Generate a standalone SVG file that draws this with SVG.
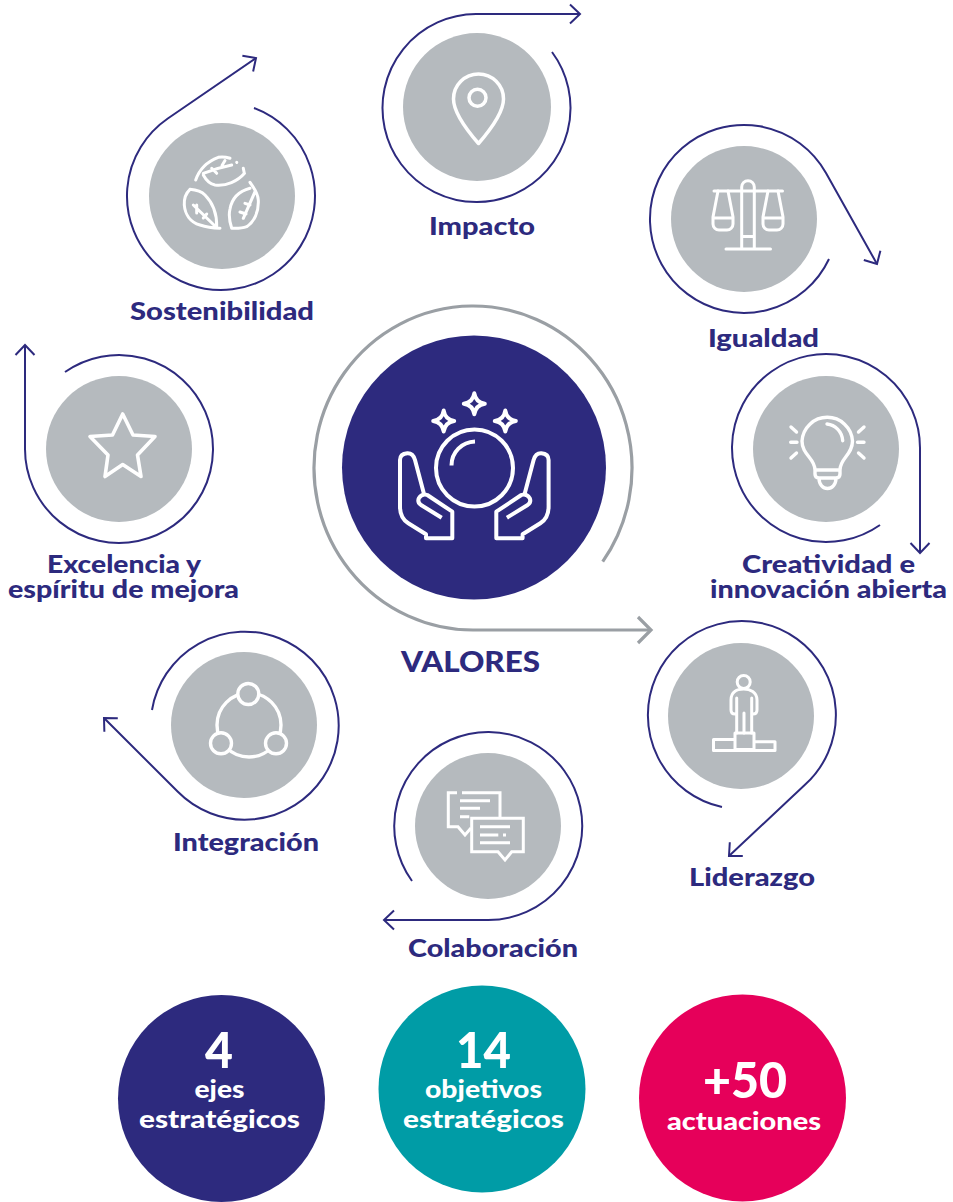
<svg xmlns="http://www.w3.org/2000/svg" xmlns:xlink="http://www.w3.org/1999/xlink" width="953" height="1202" viewBox="0 0 953 1202">
<style>
.bg{fill:#fff}
.c{fill:none;stroke:#2d2a7e;stroke-width:2}
.g{fill:none;stroke:#9a9fa4;stroke-width:3.2}
.disc{fill:#b5babe}
.i{fill:none;stroke:#fff;stroke-width:3;stroke-linecap:round;stroke-linejoin:round}
.m{fill:none;stroke:#fff;stroke-width:4;stroke-linejoin:round}
.l{font-family:"Lato","Liberation Sans",sans-serif;font-weight:900;font-size:25px;fill:#2d2a7e;text-anchor:middle}
.w{font-family:"Lato","Liberation Sans",sans-serif;font-weight:900;fill:#fff;text-anchor:middle}
.n{font-size:50px}
.s{font-size:25px}
</style>
<defs>
<marker id="a" markerUnits="userSpaceOnUse" markerWidth="24" markerHeight="24" refX="12" refY="12" orient="auto" overflow="visible"><path d="M2,2.500L12,12L2,21.500" fill="none" stroke="#2d2a7e" stroke-width="2"/></marker>
<marker id="ag" markerUnits="userSpaceOnUse" markerWidth="32" markerHeight="32" refX="16" refY="16" orient="auto" overflow="visible"><path d="M3,3L16,16L3,29" fill="none" stroke="#9a9fa4" stroke-width="3.200"/></marker>
<path id="star4" d="M0,-10.500C1,-4 4,-1 10.500,0C4,1 1,4 0,10.500C-1,4 -4,1 -10.500,0C-4,-1 -1,-4 0,-10.500Z"/>
<path id="hand" d="M424,494L415,460Q413,453 407.300,453.300Q400,454 400,460V506.700Q400,518 408.300,523.300L426,534.300V538.300H452.300V511.700L427.300,495Q422,493 419,498Q417,502 421,505L441.700,517.700"/>
</defs>
<g id="connectors">
<path class="g" marker-end="url(#ag)" d="M602.700,561.700A159,162 0 1 0 473,630H651"/>
<path class="c" marker-end="url(#a)" d="M552,52A94,94 0 1 1 476,14H580"/>
<path class="c" marker-end="url(#a)" d="M254,108A94,94 0 1 1 167.800,118.500L256,58"/>
<path class="c" marker-end="url(#a)" d="M829,259A94,94 0 1 1 826,173L877,264"/>
<path class="c" marker-end="url(#a)" d="M880,525A94,94 0 1 1 920,449V553"/>
<path class="c" marker-end="url(#a)" d="M722,807A94,94 0 1 1 805.200,784.600L729,856"/>
<path class="c" marker-end="url(#a)" d="M412,881A94,94 0 1 1 488,920H384"/>
<path class="c" marker-end="url(#a)" d="M152,710A94,94 0 1 1 177.600,791.500L104,718"/>
<path class="c" marker-end="url(#a)" d="M65,372A94,94 0 1 1 25,449V345"/>
</g>
<g id="valores">
<circle cx="474" cy="467.500" r="132" fill="#2d2a7e"/>
<g class="m">
<circle cx="474.500" cy="468" r="38.500"/>
<path d="M451.500,465.500C451.500,452 462,442 475,441.500"/>
<use xlink:href="#star4" href="#star4" x="474.300" y="403.700"/>
<use xlink:href="#star4" href="#star4" x="443.700" y="421"/>
<use xlink:href="#star4" href="#star4" x="505.300" y="421"/>
<use xlink:href="#hand" href="#hand"/>
<use xlink:href="#hand" href="#hand" transform="matrix(-1 0 0 1 948.600 0)"/>
</g>
<text class="l" x="470.500" y="672" style="font-size:28px" textLength="139" lengthAdjust="spacingAndGlyphs">VALORES</text>
</g>
<g id="impacto">
<circle class="disc" cx="477" cy="107" r="74"/>
<g class="i" style="stroke-width:3.500"><path d="M478.500,143.500C465,128 453.500,112 453.500,99A25,25 0 0 1 503.500,99C503.500,112 492,128 478.500,143.500Z"/><circle cx="477.500" cy="97.700" r="8.500"/></g>
<text class="l" x="482" y="235" textLength="106" lengthAdjust="spacingAndGlyphs">Impacto</text>
</g>
<g id="sostenibilidad">
<circle class="disc" cx="222" cy="196" r="73"/>
<g class="i">
<path d="M195.700,180C199,170 206,162 218.300,157.300C222,156.500 226,157 230,158.300M244.500,173.300C238,181 226,186.500 215,185C210,184 206,180 203.300,175M203.300,173.300C212,170 222,167 231.700,165M211.700,168.300L216.700,173.300M222,165.500L225,160.500M236.700,162.300L236.800,162.400M243.300,168.300L244.300,173.300"/>
<path d="M190,189.300C185,194 184,200 184.300,205C185,214 190,222 200,225C206,227 213,228 220,228.300M190,189.300C197,190 202,192 205,195C212,202 217,212 216.700,226.700M193.300,205L215,226M196.700,205V213M203.300,218L206.700,214"/>
<path d="M250,182.300C254,188 258,193 258.300,200C259,212 254,222 246.700,226.700C242,228.500 237,228.500 231.700,228.300C229,220 229,213 230,209C232,198 240,191 250,188.300M255,191.700L243.300,218.300M245,203.300L250,205M240,212L246,214"/>
</g>
<text class="l" x="222" y="320" textLength="184" lengthAdjust="spacingAndGlyphs">Sostenibilidad</text>
</g>
<g id="igualdad">
<circle class="disc" cx="744" cy="219" r="73"/>
<g class="i">
<path d="M714,191H782.500M726,249H770.500M741.700,249V187A6.300,6.300 0 0 1 754.300,187V249M741.700,236.500H754.300"/>
<path d="M718,191L713,217V224A6,6 0 0 0 719,230H727A6,6 0 0 0 733,224V217L728,191M713,218H733"/>
<path d="M768,191L763,217V224A6,6 0 0 0 769,230H777A6,6 0 0 0 783,224V217L778,191M763,218H783"/>
</g>
<text class="l" x="763.500" y="347" textLength="111" lengthAdjust="spacingAndGlyphs">Igualdad</text>
</g>
<g id="creatividad">
<circle class="disc" cx="826" cy="449" r="73"/>
<g class="i" style="stroke-width:3.400">
<path d="M815,470C815,458 802,455 802,441A25.300,25.300 0 0 1 852.500,441C852.500,455 840,458 840,470V474Q840,478 836,478H819Q815,478 815,474ZM815,470H840M819,478C819,492 836,492 836,478"/>
<path d="M827,424C835,425 842,431 842.700,440.700"/>
<path d="M791,427L796.500,432M790.700,442.300H797M791,458L796.500,453M864,427L858.500,432M864,442.300H857.500M864,458L858.500,453"/>
</g>
<text class="l" x="828.500" y="573" textLength="173" lengthAdjust="spacingAndGlyphs">Creatividad e</text>
<text class="l" x="828.500" y="598" textLength="237" lengthAdjust="spacingAndGlyphs">innovación abierta</text>
</g>
<g id="liderazgo">
<circle class="disc" cx="741" cy="716" r="73"/>
<g class="i">
<circle cx="743.700" cy="682" r="6.500"/>
<path d="M735,714Q731,714 731,710V700C731,692 737,689 743.700,689C750,689 757,692 757,700V710Q757,714 753,714M736.700,698V733M751.700,698V733M744,713V733"/>
<path d="M735,733H754V749.500H735ZM735,739.500H713.500V750.500H775V741.700H754"/>
</g>
<text class="l" x="752" y="886" textLength="126" lengthAdjust="spacingAndGlyphs">Liderazgo</text>
</g>
<g id="colaboracion">
<circle class="disc" cx="488" cy="826" r="73"/>
<g class="i" style="stroke-linecap:butt;stroke-linejoin:miter">
<path d="M457,792.700H448.300V826.700H458L465,835L471,828M462,792.700H500V818"/>
<path d="M471.700,818.300H523.300V851.700H511.700L505,860L498,851.700H471.700ZM460,800.700H490M460,808.300H480M460,816.700H469.300M480,826.700H510M480,835H498.300M503,835H506M480,842.700H510"/>
</g>
<text class="l" x="493" y="957" textLength="170" lengthAdjust="spacingAndGlyphs">Colaboración</text>
</g>
<g id="integracion">
<circle class="disc" cx="244" cy="725" r="73"/>
<g class="i" style="stroke-width:3.400">
<circle cx="249" cy="725" r="32"/>
<circle class="disc" style="stroke:#fff" cx="248.300" cy="694" r="10.500"/>
<circle class="disc" style="stroke:#fff" cx="221" cy="743.300" r="10.500"/>
<circle class="disc" style="stroke:#fff" cx="276" cy="743.300" r="10.500"/>
</g>
<text class="l" x="246" y="851" textLength="146" lengthAdjust="spacingAndGlyphs">Integración</text>
</g>
<g id="excelencia">
<circle class="disc" cx="119" cy="449" r="73"/>
<path class="i" style="stroke-width:3.600" d="M122.700,414L133,435L155,436.500L137.500,455L141,476.500L122.700,464.500L105,476.500L108,455L90,436.500L112.500,435Z"/>
<text class="l" x="124" y="573" textLength="154" lengthAdjust="spacingAndGlyphs">Excelencia y</text>
<text class="l" x="123.500" y="598" textLength="231" lengthAdjust="spacingAndGlyphs">espíritu de mejora</text>
</g>
<g id="ejes">
<circle cx="221.500" cy="1098.500" r="103.500" fill="#2d2a7e"/>
<text class="w n" x="219" y="1068" textLength="28" lengthAdjust="spacingAndGlyphs">4</text>
<text class="w s" x="219.500" y="1098" textLength="50" lengthAdjust="spacingAndGlyphs">ejes</text>
<text class="w s" x="219.500" y="1128" textLength="161" lengthAdjust="spacingAndGlyphs">estratégicos</text>
</g>
<g id="objetivos">
<circle cx="482" cy="1089" r="103.500" fill="#009ca6"/>
<text class="w n" x="483.500" y="1068" textLength="55" lengthAdjust="spacingAndGlyphs">14</text>
<text class="w s" x="483.500" y="1098" textLength="117" lengthAdjust="spacingAndGlyphs">objetivos</text>
<text class="w s" x="483.500" y="1128" textLength="161" lengthAdjust="spacingAndGlyphs">estratégicos</text>
</g>
<g id="actuaciones">
<circle cx="742.500" cy="1098" r="103.500" fill="#e6005a"/>
<text class="w n" x="745" y="1098" textLength="84" lengthAdjust="spacingAndGlyphs">+50</text>
<text class="w s" x="744" y="1130" textLength="154" lengthAdjust="spacingAndGlyphs">actuaciones</text>
</g>
</svg>
